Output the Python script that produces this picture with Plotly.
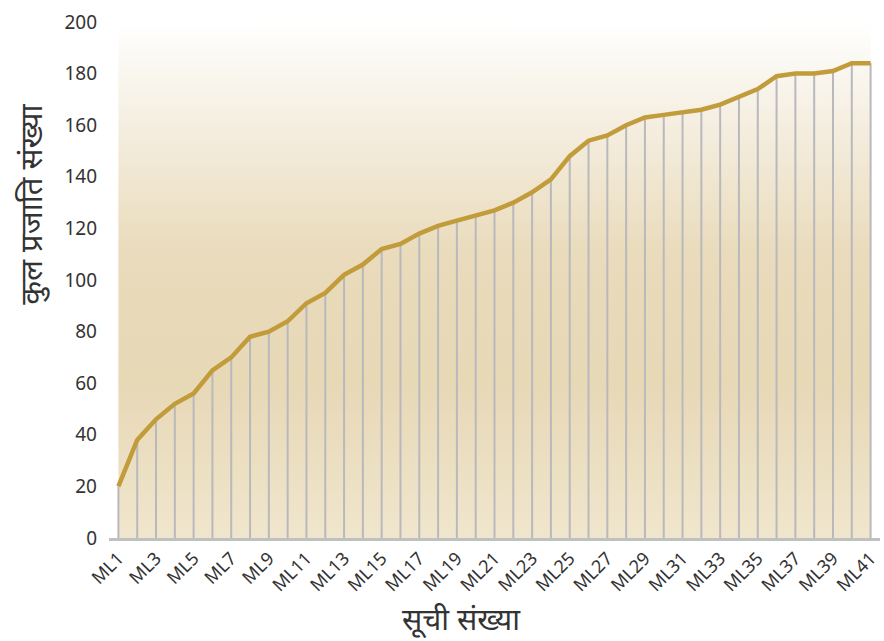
import plotly.graph_objects as go

categories = [f"ML{i}" for i in range(1, 42)]
species_total = [20, 38, 46, 52, 56, 65, 70, 78, 80, 84, 91, 95, 102, 106, 112,
                 114, 118, 121, 123, 125, 127, 130, 134, 139, 148, 154, 156, 160,
                 163, 164, 165, 166, 168, 171, 174, 179, 180, 180, 181, 184, 184]
y_ticks = [0, 20, 40, 60, 80, 100, 120, 140, 160, 180, 200]
x_tick_labels = categories[::2]
x_title = "सूची संख्या"
y_title = "कुल प्रजाति संख्या"

y_max = y_ticks[-1]

fig = go.Figure()

# gradient background panel spanning categories
fig.add_trace(go.Scatter(
    x=[categories[0], categories[-1], categories[-1], categories[0], categories[0]],
    y=[0, 0, y_max, y_max, 0],
    mode="lines", line=dict(width=0), fill="toself",
    fillgradient=dict(type="vertical", colorscale=[
        [0.0, "#f0e6cd"], [0.3, "#e7d8b6"], [0.55, "#e9dbbb"],
        [0.8, "#f5eee0"], [0.93, "#fbf9f4"], [1.0, "#ffffff"]]),
    hoverinfo="skip", showlegend=False))

# vertical drop lines
dx, dy = [], []
for c, v in zip(categories, species_total):
    dx += [c, c, None]
    dy += [0, v, None]
fig.add_trace(go.Scatter(x=dx, y=dy, mode="lines",
                         line=dict(color="#b9b9bd", width=2),
                         hoverinfo="skip", showlegend=False))

fig.add_trace(go.Scatter(x=categories, y=species_total, mode="lines",
                         line=dict(color="#c29b3a", width=4.5),
                         showlegend=False))

fig.update_layout(
    width=884, height=641,
    margin=dict(l=109, r=4, t=22, b=102.5),
    paper_bgcolor="white", plot_bgcolor="white",
    font=dict(family="Noto Sans, Open Sans, sans-serif", color="#333333"),
    xaxis=dict(
        type="category", categoryorder="array", categoryarray=categories,
        range=[-0.5, len(categories) - 0.5], automargin=False,
        tickmode="array", tickvals=x_tick_labels, ticktext=x_tick_labels,
        tickangle=-45, tickfont=dict(size=18, color="#333333"),
        showgrid=False, zeroline=False, showline=True,
        linecolor="#c0c0c0", linewidth=2.5, ticks="",
    ),
    yaxis=dict(
        range=[0, y_max], tickvals=y_ticks, tickfont=dict(size=19, color="#333333"),
        showgrid=False, zeroline=False, showline=False, ticks="", automargin=False,
        ticklabelstandoff=11,
    ),
    annotations=[
        dict(text=x_title, xref="paper", yref="paper",
             x=(461 - 109) / (880 - 109), y=-(619 - 538.5) / (538.5 - 22),
             xanchor="center", yanchor="middle", showarrow=False,
             font=dict(size=30, color="#333333")),
        dict(text=y_title, xref="paper", yref="paper", textangle=-90,
             x=-(109 - 30) / (880 - 109), y=(538.5 - 205) / (538.5 - 22),
             xanchor="center", yanchor="middle", showarrow=False,
             font=dict(size=31, color="#333333")),
    ],
)

fig.write_html("out.html", config={"displayModeBar": False},
               post_script="document.body.style.margin='0';document.body.style.overflow='hidden';")
